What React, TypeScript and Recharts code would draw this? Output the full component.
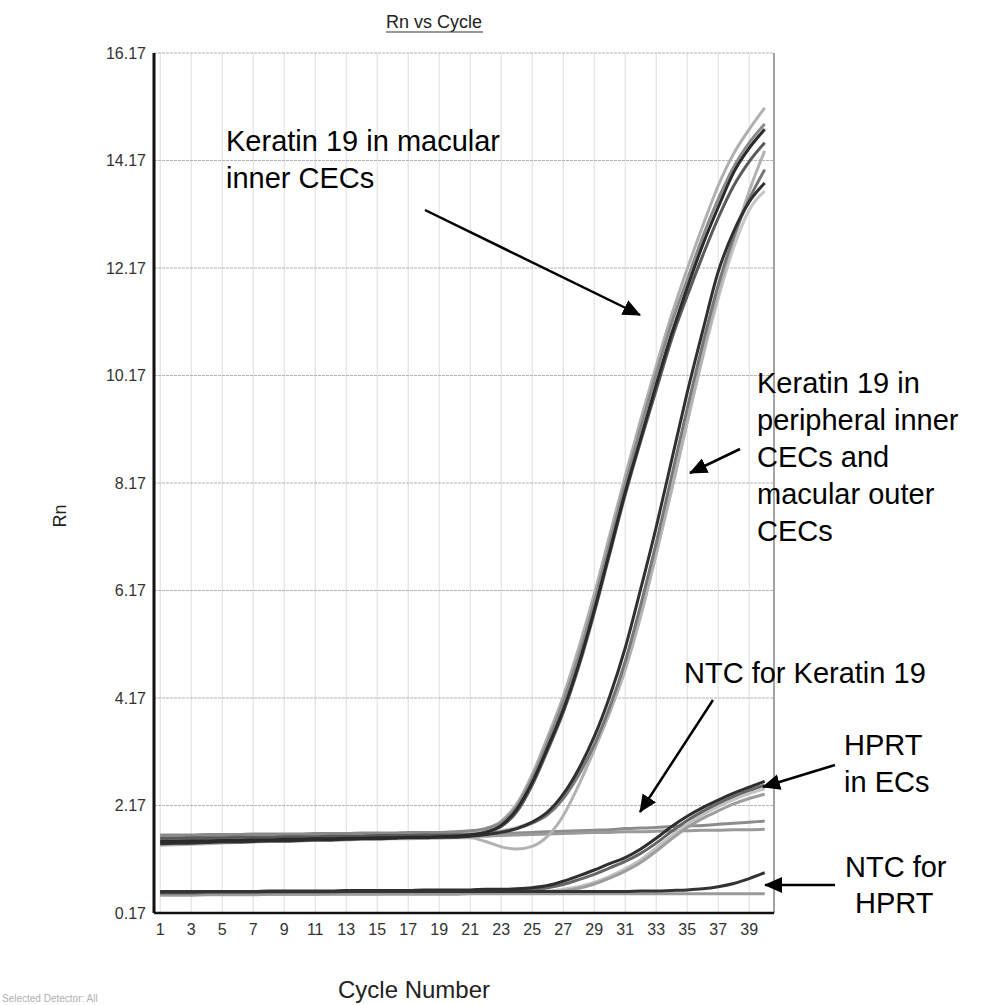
import React from "react";
import { CartesianGrid, Line, LineChart, ReferenceLine, XAxis, YAxis } from "recharts";

const cycles = [1, 2, 3, 4, 5, 6, 7, 8, 9, 10, 11, 12, 13, 14, 15, 16, 17, 18, 19, 20, 21, 22, 23, 24, 25, 26, 27, 28, 29, 30, 31, 32, 33, 34, 35, 36, 37, 38, 39, 40];
const xTicks = [1, 3, 5, 7, 9, 11, 13, 15, 17, 19, 21, 23, 25, 27, 29, 31, 33, 35, 37, 39];
const yTicks = [0.17, 2.17, 4.17, 6.17, 8.17, 10.17, 12.17, 14.17, 16.17];

// Keratin 19, macular inner CECs (early risers)
const kA1 = [1.6, 1.6, 1.61, 1.61, 1.61, 1.62, 1.62, 1.62, 1.63, 1.63, 1.63, 1.64, 1.64, 1.64, 1.65, 1.65, 1.65, 1.66, 1.66, 1.67, 1.69, 1.74, 1.88, 2.2, 2.75, 3.45, 4.2, 5.1, 6.1, 7.2, 8.3, 9.35, 10.35, 11.3, 12.15, 12.95, 13.7, 14.3, 14.75, 15.15];
const kA2 = [1.5, 1.5, 1.51, 1.51, 1.52, 1.52, 1.53, 1.53, 1.54, 1.54, 1.55, 1.55, 1.56, 1.56, 1.57, 1.57, 1.58, 1.58, 1.59, 1.6, 1.62, 1.67, 1.8, 2.1, 2.6, 3.25, 3.95, 4.8, 5.8, 6.9, 8.0, 9.0, 10.0, 10.95, 11.8, 12.6, 13.3, 13.95, 14.4, 14.75];
const kA3 = [1.56, 1.56, 1.57, 1.57, 1.57, 1.58, 1.58, 1.58, 1.59, 1.59, 1.59, 1.6, 1.6, 1.6, 1.61, 1.61, 1.61, 1.62, 1.62, 1.62, 1.63, 1.68, 1.78, 2.05, 2.55, 3.2, 3.9, 4.75, 5.75, 6.85, 7.95, 8.95, 9.9, 10.85, 11.65, 12.4, 13.1, 13.7, 14.15, 14.5];
const kA4 = [1.62, 1.62, 1.62, 1.63, 1.63, 1.63, 1.64, 1.64, 1.64, 1.64, 1.65, 1.65, 1.65, 1.66, 1.66, 1.66, 1.67, 1.67, 1.67, 1.68, 1.7, 1.74, 1.85, 2.15, 2.68, 3.35, 4.1, 4.95, 5.95, 7.05, 8.15, 9.2, 10.2, 11.15, 11.95, 12.75, 13.45, 14.05, 14.5, 14.85];

// Keratin 19, peripheral inner + macular outer CECs (later risers)
const kB1 = [1.46, 1.47, 1.47, 1.48, 1.49, 1.49, 1.5, 1.51, 1.51, 1.52, 1.53, 1.53, 1.54, 1.55, 1.55, 1.56, 1.57, 1.57, 1.58, 1.58, 1.6, 1.63, 1.67, 1.74, 1.86, 2.05, 2.38, 2.85, 3.45, 4.2, 5.1, 6.2, 7.35, 8.6, 9.85, 11.0, 12.1, 12.85, 13.4, 13.75];
const kB2 = [1.53, 1.53, 1.54, 1.54, 1.55, 1.55, 1.56, 1.56, 1.57, 1.57, 1.58, 1.58, 1.59, 1.59, 1.6, 1.6, 1.61, 1.61, 1.61, 1.62, 1.62, 1.65, 1.68, 1.74, 1.84, 2.0, 2.3, 2.75, 3.3, 4.0, 4.85, 5.9, 7.05, 8.3, 9.55, 10.75, 11.85, 12.75, 13.45, 14.0];
const kB3 = [1.43, 1.44, 1.45, 1.46, 1.47, 1.48, 1.49, 1.5, 1.5, 1.51, 1.52, 1.52, 1.53, 1.54, 1.54, 1.55, 1.55, 1.56, 1.56, 1.57, 1.57, 1.5, 1.4, 1.36, 1.41, 1.6, 1.98, 2.55, 3.2, 3.9, 4.7, 5.7, 6.85, 8.05, 9.3, 10.55, 11.7, 12.7, 13.6, 14.35];
const kB4 = [1.58, 1.58, 1.59, 1.59, 1.59, 1.6, 1.6, 1.6, 1.61, 1.61, 1.61, 1.62, 1.62, 1.62, 1.63, 1.63, 1.63, 1.64, 1.64, 1.64, 1.64, 1.66, 1.7, 1.76, 1.86, 2.02, 2.3, 2.72, 3.25, 3.9, 4.7, 5.7, 6.85, 8.05, 9.3, 10.5, 11.6, 12.55, 13.25, 13.6];

// NTC for Keratin 19
const nK1 = [1.5, 1.5, 1.51, 1.52, 1.52, 1.53, 1.54, 1.54, 1.55, 1.56, 1.56, 1.57, 1.58, 1.58, 1.59, 1.6, 1.6, 1.61, 1.62, 1.62, 1.63, 1.64, 1.65, 1.66, 1.67, 1.68, 1.69, 1.7, 1.71, 1.72, 1.74, 1.75, 1.76, 1.78, 1.79, 1.8, 1.82, 1.84, 1.86, 1.88];
const nK2 = [1.47, 1.47, 1.48, 1.49, 1.49, 1.5, 1.51, 1.51, 1.52, 1.53, 1.53, 1.54, 1.54, 1.55, 1.56, 1.56, 1.57, 1.57, 1.58, 1.59, 1.59, 1.6, 1.61, 1.62, 1.63, 1.64, 1.65, 1.66, 1.67, 1.67, 1.68, 1.68, 1.69, 1.7, 1.7, 1.71, 1.71, 1.72, 1.72, 1.73];

// HPRT in ECs
const h1 = [0.56, 0.56, 0.56, 0.57, 0.57, 0.57, 0.57, 0.58, 0.58, 0.58, 0.58, 0.58, 0.59, 0.59, 0.59, 0.59, 0.59, 0.6, 0.6, 0.6, 0.6, 0.61, 0.61, 0.62, 0.64, 0.68, 0.76, 0.86, 0.97, 1.09, 1.2, 1.36, 1.56, 1.78, 1.97, 2.13, 2.27, 2.4, 2.51, 2.62];
const h2 = [0.5, 0.5, 0.5, 0.51, 0.51, 0.51, 0.51, 0.52, 0.52, 0.52, 0.52, 0.53, 0.53, 0.53, 0.53, 0.54, 0.54, 0.54, 0.54, 0.54, 0.55, 0.55, 0.55, 0.55, 0.56, 0.56, 0.58, 0.63, 0.71, 0.82, 0.95, 1.11, 1.32, 1.55, 1.76, 1.93, 2.07, 2.2, 2.3, 2.38];
const h3 = [0.52, 0.52, 0.52, 0.53, 0.53, 0.53, 0.53, 0.54, 0.54, 0.54, 0.54, 0.55, 0.55, 0.55, 0.55, 0.56, 0.56, 0.56, 0.56, 0.57, 0.57, 0.57, 0.57, 0.58, 0.58, 0.58, 0.61, 0.66, 0.74, 0.85, 0.99, 1.16, 1.38, 1.61, 1.82, 2.0, 2.15, 2.28, 2.39, 2.48];
const h4 = [0.54, 0.54, 0.54, 0.55, 0.55, 0.55, 0.55, 0.56, 0.56, 0.56, 0.56, 0.56, 0.57, 0.57, 0.57, 0.57, 0.58, 0.58, 0.58, 0.58, 0.59, 0.59, 0.59, 0.6, 0.61, 0.64, 0.7, 0.79, 0.89, 1.01, 1.13, 1.28, 1.47, 1.69, 1.89, 2.06, 2.21, 2.34, 2.45, 2.55];

// NTC for HPRT
const nh1 = [0.57, 0.57, 0.57, 0.57, 0.57, 0.57, 0.57, 0.57, 0.57, 0.57, 0.57, 0.57, 0.57, 0.57, 0.57, 0.57, 0.57, 0.57, 0.57, 0.57, 0.57, 0.57, 0.57, 0.57, 0.57, 0.57, 0.57, 0.57, 0.57, 0.57, 0.57, 0.58, 0.58, 0.59, 0.6, 0.62, 0.66, 0.72, 0.81, 0.92];
const nh2 = [0.52, 0.52, 0.52, 0.52, 0.52, 0.52, 0.52, 0.52, 0.52, 0.52, 0.52, 0.52, 0.52, 0.52, 0.52, 0.52, 0.52, 0.52, 0.52, 0.52, 0.53, 0.53, 0.53, 0.53, 0.53, 0.53, 0.53, 0.53, 0.53, 0.53, 0.53, 0.53, 0.53, 0.53, 0.53, 0.53, 0.53, 0.53, 0.53, 0.53];

const seriesData: Record<string, number[]> = { kA1, kA2, kA3, kA4, kB1, kB2, kB3, kB4, nK1, nK2, h1, h2, h3, h4, nh1, nh2 };

// drawing order: light first, dark on top
const seriesStyle = [
  { key: "nK1", color: "#8c8c8c" },
  { key: "nK2", color: "#9a9a9a" },
  { key: "kB4", color: "#c6c6c6" },
  { key: "kB3", color: "#b2b2b2" },
  { key: "kA1", color: "#b0b0b0" },
  { key: "kA4", color: "#8a8a8a" },
  { key: "h3", color: "#c2c2c2" },
  { key: "h2", color: "#9e9e9e" },
  { key: "nh2", color: "#9a9a9a" },
  { key: "kB2", color: "#777777" },
  { key: "kA3", color: "#5a5a5a" },
  { key: "h4", color: "#666666" },
  { key: "kB1", color: "#303030" },
  { key: "kA2", color: "#2a2a2a" },
  { key: "h1", color: "#2e2e2e" },
  { key: "nh1", color: "#333333" },
];

const rows = cycles.map((c, i) => {
  const r: Record<string, number> = { cycle: c };
  Object.keys(seriesData).forEach((k) => (r[k] = seriesData[k][i]));
  return r;
});

const font = "'Liberation Sans', Arial, sans-serif";

function Arrow({ x1, y1, x2, y2 }: { x1: number; y1: number; x2: number; y2: number }) {
  return <line x1={x1} y1={y1} x2={x2} y2={y2} stroke="#000" strokeWidth={2.5} markerEnd="url(#ah)" />;
}

function Overlay() {
  const t = { fontFamily: font, fontSize: 29, fill: "#000" };
  return (
    <svg width={992} height={1005} style={{ position: "absolute", left: 0, top: 0, pointerEvents: "none" }}>
      <defs>
        <marker id="ah" markerUnits="userSpaceOnUse" markerWidth={18} markerHeight={16} refX={17} refY={8} orient="auto">
          <path d="M0,0 L18,8 L0,16 Z" fill="#000" />
        </marker>
      </defs>
      <text x={386} y={28} style={{ fontFamily: font, fontSize: 18, fill: "#222" }}>Rn vs Cycle</text>
      <line x1={386} y1={32} x2={483} y2={32} stroke="#333" strokeWidth={1.2} />
      <text transform="translate(66,516) rotate(-90)" textAnchor="middle" style={{ fontFamily: font, fontSize: 18, fill: "#222" }}>Rn</text>
      <text x={338} y={998} style={{ fontFamily: font, fontSize: 24, fill: "#222" }}>Cycle Number</text>
      <text x={2} y={1002} style={{ fontFamily: font, fontSize: 10, fill: "#b0b0b0" }}>Selected Detector: All</text>

      <text x={226} y={151} style={t}>Keratin 19 in macular</text>
      <text x={226} y={188} style={t}>inner CECs</text>
      <Arrow x1={425} y1={210} x2={640} y2={315} />

      <text x={757} y={393} style={t}>Keratin 19 in</text>
      <text x={757} y={430} style={t}>peripheral inner</text>
      <text x={757} y={467} style={t}>CECs and</text>
      <text x={757} y={504} style={t}>macular outer</text>
      <text x={757} y={541} style={t}>CECs</text>
      <Arrow x1={740} y1={449} x2={690} y2={473} />

      <text x={684} y={683} style={t}>NTC for Keratin 19</text>
      <Arrow x1={713} y1={700} x2={640} y2={812} />

      <text x={844} y={755} style={t}>HPRT</text>
      <text x={844} y={792} style={t}>in ECs</text>
      <Arrow x1={835} y1={765} x2={763} y2={787} />

      <text x={845} y={877} style={t}>NTC for</text>
      <text x={855} y={913} style={t}>HPRT</text>
      <Arrow x1={835} y1={885} x2={765} y2={885} />
    </svg>
  );
}

export default function App() {
  const tick = { fill: "#333", fontSize: 16, fontFamily: font };
  return (
    <div style={{ position: "absolute", left: 0, top: 0, width: 992, height: 1005, background: "#fff" }}>
      <LineChart width={992} height={1005} data={rows} margin={{ top: 53, right: 218, bottom: 0, left: 0 }}>
        <CartesianGrid horizontal={false} stroke="#dddddd" strokeWidth={1} />
        <CartesianGrid vertical={false} stroke="#b4b4b4" strokeWidth={1.2} strokeDasharray="3 1" />
        <XAxis
          dataKey="cycle"
          type="number"
          domain={[0.6, 40.6]}
          allowDataOverflow
          ticks={xTicks}
          height={92}
          tickSize={0}
          tickMargin={11}
          tick={tick}
          axisLine={{ stroke: "#111", strokeWidth: 2.5 }}
        />
        <YAxis
          type="number"
          domain={[0.17, 16.17]}
          allowDataOverflow
          ticks={yTicks}
          width={154}
          tickSize={0}
          tickMargin={8}
          tick={tick}
          tickFormatter={(v: number) => v.toFixed(2)}
          axisLine={{ stroke: "#111", strokeWidth: 3 }}
        />
        <ReferenceLine x={40.6} stroke="#8a8a8a" strokeWidth={1.5} ifOverflow="extendDomain" />
        {seriesStyle.map((s) => (
          <Line
            key={s.key}
            dataKey={s.key}
            type="monotone"
            stroke={s.color}
            strokeWidth={3}
            dot={false}
            isAnimationActive={false}
          />
        ))}
      </LineChart>
      <Overlay />
    </div>
  );
}
